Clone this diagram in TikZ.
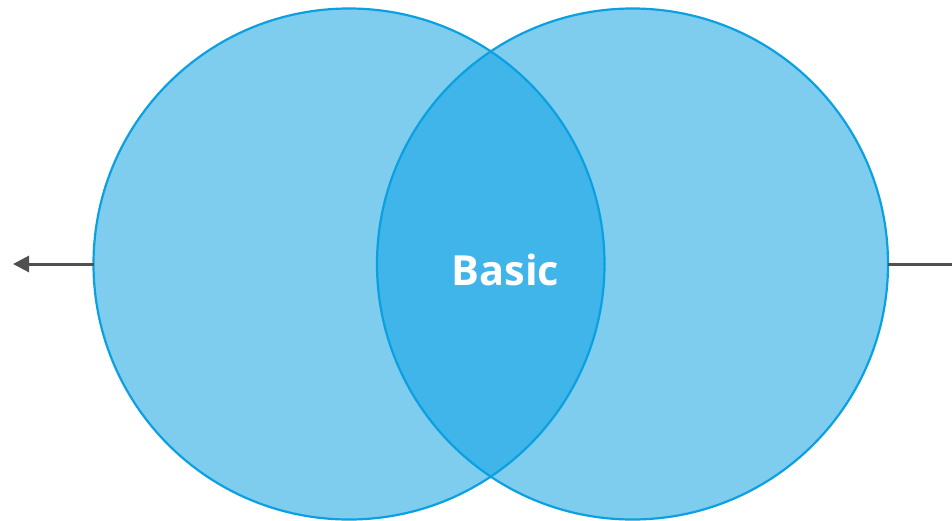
\documentclass[tikz,border=0pt]{standalone}
\usepackage{fontspec}
\setmainfont{Open Sans}
\usetikzlibrary{arrows.meta}
\definecolor{lightfill}{RGB}{127,205,238}
\definecolor{darkfill}{RGB}{63,181,233}
\definecolor{ringcol}{RGB}{10,160,225}
\definecolor{arrowcol}{RGB}{80,80,80}
\begin{document}
\begin{tikzpicture}[x=1pt,y=-1pt,
  ring/.style={circle, minimum size=511pt, inner sep=0pt, outer sep=0pt, fill=lightfill},
  ringline/.style={draw=ringcol, line width=2.2pt},
  connector/.style={draw=arrowcol, line width=3pt}]
\useasboundingbox (0,0) rectangle (952,520);
\node[ring] (L) at (349,264) {};
\node[ring] (R) at (632.5,264) {};
\begin{scope}
  \clip (349,264) circle (255.5pt);
  \fill[darkfill] (632.5,264) circle (255.5pt);
\end{scope}
\draw[ringline] (349,264) circle (255.5pt);
\draw[ringline] (632.5,264) circle (255.5pt);
\node[font=\bfseries, text=white, inner sep=0pt] (T) at (505.5,270) {\fontsize{41.5}{48}\selectfont Basic};
\coordinate (leftend) at (13,264);
\coordinate (rightend) at (960,264);
\draw[connector, -{Triangle[length=16pt,width=16pt]}] (L.west) -- (leftend);
\draw[connector] (R.east) -- (rightend);
\end{tikzpicture}
\end{document}
